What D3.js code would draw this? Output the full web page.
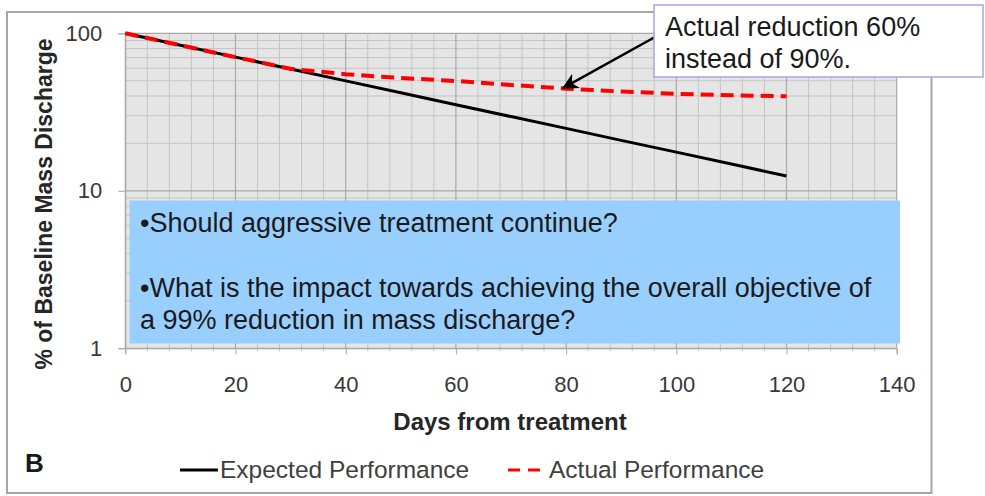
<!DOCTYPE html>
<html>
<head>
<meta charset="utf-8">
<script src="https://cdn.jsdelivr.net/npm/d3@7"></script>
<style>
  html, body { margin: 0; padding: 0; background: #fff; }
  svg { display: block; font-family: "Liberation Sans", Arial, sans-serif; }
</style>
</head>
<body>
<svg id="chart" width="985" height="496"></svg>
<script>
// ---- data ----
const days = [0, 10, 20, 30, 40, 50, 60, 70, 80, 90, 100, 110, 120];
const expected = [100, 84.0, 70.6, 59.3, 49.9, 41.9, 35.2, 29.6, 24.9, 20.9, 17.6, 14.8, 12.4];
const actual = [100, 84.0, 70.6, 59.5, 55.0, 52.0, 49.8, 47.0, 44.5, 42.7, 41.3, 40.4, 39.8];
const xTicks = [0, 20, 40, 60, 80, 100, 120, 140];
const yTicks = [1, 10, 100];
const seriesNames = ["Expected Performance", "Actual Performance"];
const annotationText = ["Actual reduction 60%", "instead of 90%."];
const annotationTarget = [79.5, 45];
const questionText = ["•Should aggressive treatment continue?", "•What is the impact towards achieving the overall objective of", "a 99% reduction in mass discharge?"];
const panelLabel = "B";
const xTitle = "Days from treatment";
const yTitle = "% of Baseline Mass Discharge";

// ---- layout ----
const svg = d3.select("#chart");
const pLeft = 125.3, pRight = 896.7, pTop = 33.3, pBottom = 348.3;
const x = d3.scaleLinear().domain([0, 140]).range([pLeft, pRight]);
const y = d3.scaleLog().domain([1, 100]).range([pBottom, pTop]);

// outer frame
svg.append("rect").attr("x", 7).attr("y", 12).attr("width", 924.5).attr("height", 481)
  .attr("fill", "#fff").attr("stroke", "#a6a6a6").attr("stroke-width", 2);

// plot background
svg.append("rect").attr("x", pLeft).attr("y", pTop).attr("width", pRight - pLeft).attr("height", pBottom - pTop)
  .attr("fill", "#e5e5e5");

const grid = svg.append("g");
// minor vertical grid every 4 days
d3.range(4, 140, 4).forEach(d => {
  if (d % 20 === 0) return;
  grid.append("line").attr("x1", x(d)).attr("x2", x(d)).attr("y1", pTop).attr("y2", pBottom + 3)
    .attr("stroke", "#c4c4c4").attr("stroke-width", 1);
});
// minor horizontal log grid
[2,3,4,5,6,7,8,9,20,30,40,50,60,70,80,90].forEach(v => {
  grid.append("line").attr("x1", pLeft).attr("x2", pRight).attr("y1", y(v)).attr("y2", y(v))
    .attr("stroke", "#c4c4c4").attr("stroke-width", 1);
});
// major grid
xTicks.forEach(d => {
  grid.append("line").attr("x1", x(d)).attr("x2", x(d)).attr("y1", pTop).attr("y2", pBottom)
    .attr("stroke", "#a9a9a9").attr("stroke-width", 1.2);
});
yTicks.forEach(v => {
  grid.append("line").attr("x1", pLeft).attr("x2", pRight).attr("y1", y(v)).attr("y2", y(v))
    .attr("stroke", "#a9a9a9").attr("stroke-width", 1.2);
});

// axes
const xAxis = svg.append("g").attr("transform", `translate(0,${pBottom})`)
  .call(d3.axisBottom(x).tickValues(xTicks).tickSize(6).tickPadding(22).tickFormat(d3.format("d")));
xAxis.select(".domain").attr("stroke", "#a9a9a9");
xAxis.selectAll(".tick line").attr("stroke", "#a9a9a9");
xAxis.selectAll("text").attr("font-size", 22).attr("fill", "#383838").attr("font-family", "Liberation Sans, Arial, sans-serif");

const yAxis = svg.append("g").attr("transform", `translate(${pLeft},0)`)
  .call(d3.axisLeft(y).tickValues(yTicks).tickSize(7).tickPadding(16).tickFormat(d3.format("d")));
yAxis.select(".domain").attr("stroke", "#a9a9a9");
yAxis.selectAll(".tick line").attr("stroke", "#a9a9a9");
yAxis.selectAll("text").attr("font-size", 22).attr("fill", "#383838").attr("font-family", "Liberation Sans, Arial, sans-serif");

// axis titles
svg.append("text").attr("x", 510).attr("y", 430).attr("text-anchor", "middle")
  .attr("font-size", 24).attr("font-weight", "bold").attr("fill", "#262626").text(xTitle);
svg.append("text").attr("transform", "translate(52,204) rotate(-90)").attr("text-anchor", "middle")
  .attr("font-size", 23).attr("font-weight", "bold").attr("fill", "#262626").text(yTitle);

// lines
const line = d3.line().x((d, i) => x(days[i])).y(d => y(d));
svg.append("path").datum(expected).attr("d", line).attr("fill", "none")
  .attr("stroke", "#000").attr("stroke-width", 3);
svg.append("path").datum(actual).attr("d", line).attr("fill", "none")
  .attr("stroke", "#ff0000").attr("stroke-width", 4).attr("stroke-dasharray", "13,7");

// question box
svg.append("rect").attr("x", 129.5).attr("y", 200.5).attr("width", 770.5).attr("height", 143)
  .attr("fill", "#99cfff");
const qt = svg.append("g").attr("font-size", 27).attr("fill", "#1a1a1a");
qt.append("text").attr("x", 140).attr("y", 232).text(questionText[0]);
qt.append("text").attr("x", 140).attr("y", 297).text(questionText[1]);
qt.append("text").attr("x", 140).attr("y", 329).text(questionText[2]);

// annotation callout
svg.append("defs").append("marker").attr("id", "arrow").attr("viewBox", "0 0 10 10")
  .attr("refX", 9).attr("refY", 5).attr("markerWidth", 6.5).attr("markerHeight", 6.5)
  .attr("orient", "auto").attr("markerUnits", "strokeWidth")
  .append("path").attr("d", "M0,0 L10,5 L0,10 L3,5 Z").attr("fill", "#000");
svg.append("line").attr("x1", 655).attr("y1", 37)
  .attr("x2", x(annotationTarget[0])).attr("y2", y(annotationTarget[1]))
  .attr("stroke", "#000").attr("stroke-width", 2.5).attr("marker-end", "url(#arrow)");
svg.append("rect").attr("x", 654).attr("y", 5).attr("width", 329).attr("height", 72)
  .attr("fill", "#fff").attr("stroke", "#a9a6e0").attr("stroke-width", 1.5);
const at = svg.append("g").attr("font-size", 27).attr("fill", "#1a1a1a");
at.append("text").attr("x", 665).attr("y", 36).text(annotationText[0]);
at.append("text").attr("x", 665).attr("y", 68).text(annotationText[1]);

// panel label
svg.append("text").attr("x", 25).attr("y", 472).attr("font-size", 26).attr("font-weight", "bold")
  .attr("fill", "#1a1a1a").text(panelLabel);

// legend
const lg = svg.append("g");
lg.append("line").attr("x1", 180).attr("x2", 218).attr("y1", 470).attr("y2", 470)
  .attr("stroke", "#000").attr("stroke-width", 3);
lg.append("text").attr("x", 220).attr("y", 478).attr("font-size", 24.5).attr("fill", "#404040").text(seriesNames[0]);
lg.append("line").attr("x1", 508).attr("x2", 541).attr("y1", 470).attr("y2", 470)
  .attr("stroke", "#ff0000").attr("stroke-width", 3).attr("stroke-dasharray", "12,8");
lg.append("text").attr("x", 549).attr("y", 478).attr("font-size", 24.5).attr("fill", "#404040").text(seriesNames[1]);
</script>
</body>
</html>
